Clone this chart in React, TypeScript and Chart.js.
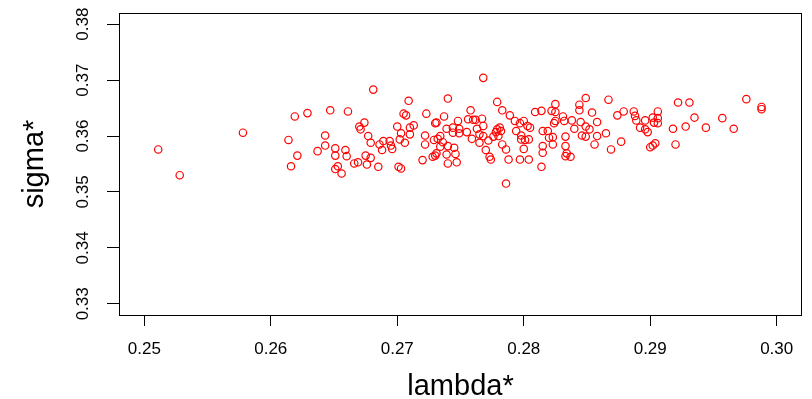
import React, { useEffect, useRef } from "react";
import { Chart, registerables } from "chart.js";

Chart.register(...registerables);

const lambdaStar: number[] = [
  0.2511, 0.2528, 0.2578, 0.2619, 0.2629, 0.2647, 0.2661, 0.2614, 0.2643, 0.2643,
  0.2637, 0.2651, 0.2659, 0.2621, 0.2651, 0.2660, 0.2616, 0.2653, 0.2651, 0.2656,
  0.2666, 0.2669, 0.2670, 0.2671, 0.2674, 0.2675, 0.2679, 0.2677, 0.2679, 0.2676,
  0.2681, 0.2685, 0.2686, 0.2688, 0.2689, 0.2694, 0.2695, 0.2696, 0.2700, 0.2701,
  0.2703, 0.2702, 0.2703, 0.2705, 0.2707, 0.2706, 0.2709, 0.2710, 0.2710, 0.2713,
  0.2720, 0.2722, 0.2722, 0.2723, 0.2728, 0.2730, 0.2731, 0.2729, 0.2732, 0.2730,
  0.2731, 0.2734, 0.2734, 0.2736, 0.2737, 0.2740, 0.2739, 0.2740, 0.2739, 0.2740,
  0.2744, 0.2745, 0.2746, 0.2747, 0.2744, 0.2748, 0.2749, 0.2749, 0.2755, 0.2756,
  0.2758, 0.2759, 0.2760, 0.2762, 0.2763, 0.2765, 0.2765, 0.2767, 0.2768, 0.2768,
  0.2768, 0.2770, 0.2772, 0.2773, 0.2774, 0.2776, 0.2778, 0.2779, 0.2781, 0.2782,
  0.2780, 0.2779, 0.2783, 0.2783, 0.2786, 0.2786, 0.2788, 0.2789, 0.2793, 0.2794,
  0.2797, 0.2798, 0.2798, 0.2797, 0.2800, 0.2800, 0.2801, 0.2803, 0.2805, 0.2804,
  0.2804, 0.2809, 0.2814, 0.2815, 0.2815, 0.2815, 0.2814, 0.2819, 0.2820, 0.2822,
  0.2825, 0.2825, 0.2824, 0.2825, 0.2823, 0.2823, 0.2831, 0.2832, 0.2833, 0.2833,
  0.2833, 0.2834, 0.2838, 0.2844, 0.2844, 0.2849, 0.2845, 0.2840, 0.2837, 0.2849,
  0.2852, 0.2854, 0.2858, 0.2846, 0.2849, 0.2858, 0.2856, 0.2865, 0.2867, 0.2869,
  0.2874, 0.2879, 0.2877, 0.2887, 0.2888, 0.2889, 0.2892, 0.2896, 0.2896, 0.2898,
  0.2900, 0.2902, 0.2904, 0.2902, 0.2906, 0.2906, 0.2903, 0.2906, 0.2918, 0.2920,
  0.2922, 0.2931, 0.2928, 0.2935, 0.2944, 0.2957, 0.2966, 0.2976, 0.2988, 0.2988,
];

const sigmaStar: number[] = [
  0.3576, 0.3530, 0.3606, 0.3635, 0.3641, 0.3646, 0.3644, 0.3593, 0.3601, 0.3583,
  0.3573, 0.3578, 0.3575, 0.3565, 0.3565, 0.3564, 0.3546, 0.3546, 0.3541, 0.3533,
  0.3551, 0.3553, 0.3617, 0.3612, 0.3624, 0.3565, 0.3561, 0.3600, 0.3588, 0.3549,
  0.3683, 0.3545, 0.3585, 0.3575, 0.3591, 0.3591, 0.3583, 0.3577, 0.3617, 0.3545,
  0.3542, 0.3594, 0.3605, 0.3640, 0.3637, 0.3588, 0.3663, 0.3603, 0.3615, 0.3619,
  0.3557, 0.3601, 0.3585, 0.3640, 0.3563, 0.3565, 0.3569, 0.3593, 0.3595, 0.3623,
  0.3624, 0.3600, 0.3581, 0.3589, 0.3635, 0.3667, 0.3613, 0.3582, 0.3567, 0.3551,
  0.3606, 0.3579, 0.3568, 0.3553, 0.3615, 0.3627, 0.3605, 0.3613, 0.3607, 0.3630,
  0.3646, 0.3595, 0.3629, 0.3629, 0.3613, 0.3603, 0.3588, 0.3631, 0.3618, 0.3704,
  0.3600, 0.3575, 0.3592, 0.3563, 0.3558, 0.3599, 0.3607, 0.3612, 0.3615, 0.3609,
  0.3600, 0.3661, 0.3646, 0.3585, 0.3576, 0.3515, 0.3558, 0.3637, 0.3627, 0.3609,
  0.3623, 0.3601, 0.3594, 0.3558, 0.3577, 0.3627, 0.3593, 0.3618, 0.3615, 0.3594,
  0.3558, 0.3643, 0.3645, 0.3609, 0.3582, 0.3570, 0.3545, 0.3609, 0.3597, 0.3645,
  0.3657, 0.3643, 0.3623, 0.3627, 0.3598, 0.3585, 0.3635, 0.3627, 0.3599, 0.3582,
  0.3564, 0.3569, 0.3628, 0.3656, 0.3646, 0.3668, 0.3625, 0.3613, 0.3563, 0.3617,
  0.3612, 0.3642, 0.3625, 0.3601, 0.3599, 0.3600, 0.3585, 0.3605, 0.3665, 0.3576,
  0.3637, 0.3644, 0.3590, 0.3644, 0.3636, 0.3628, 0.3615, 0.3628, 0.3612, 0.3607,
  0.3580, 0.3583, 0.3587, 0.3633, 0.3644, 0.3632, 0.3624, 0.3623, 0.3613, 0.3585,
  0.3660, 0.3660, 0.3617, 0.3633, 0.3615, 0.3632, 0.3613, 0.3666, 0.3652, 0.3648,
];

const xTicks: number[] = [0.25, 0.26, 0.27, 0.28, 0.29, 0.3];
const yTicks: number[] = [0.33, 0.34, 0.35, 0.36, 0.37, 0.38];
const xRange: number[] = [0.248, 0.302];
const yRange: number[] = [0.328, 0.382];
const xTitle = "lambda*";
const yTitle = "sigma*";

const FONT = "'Liberation Sans', Arial, Helvetica, sans-serif";

const frame = {
  id: "rFrame",
  afterDraw(chart: any) {
    const { ctx, chartArea: a } = chart;
    ctx.save();
    ctx.strokeStyle = "#000";
    ctx.lineWidth = 1;
    ctx.strokeRect(a.left + 0.5, a.top + 0.5, a.right - a.left - 1, a.bottom - a.top);
    const ys = chart.scales.y;
    ctx.fillStyle = "#000";
    ctx.font = `17px ${FONT}`;
    ctx.textAlign = "center";
    ctx.textBaseline = "middle";
    for (const v of yTicks) {
      const py = ys.getPixelForValue(v);
      ctx.save();
      ctx.translate(83.5, py);
      ctx.rotate(-Math.PI / 2);
      ctx.fillText(v.toFixed(2), 0, 0);
      ctx.restore();
    }
    ctx.restore();
  },
};

export default function App() {
  const ref = useRef<HTMLCanvasElement | null>(null);
  useEffect(() => {
    document.body.style.margin = "0";
    const canvas = ref.current;
    if (!canvas) return;
    const points = lambdaStar.map((x, i) => ({ x, y: sigmaStar[i] }));
    const chart = new Chart(canvas, {
      type: "scatter",
      data: {
        datasets: [
          {
            data: points,
            pointStyle: "circle",
            pointRadius: 3.7,
            pointHoverRadius: 3.7,
            pointBorderWidth: 1.2,
            borderColor: "#ff0000",
            backgroundColor: "rgba(0,0,0,0)",
          },
        ],
      },
      options: {
        animation: false,
        responsive: false,
        maintainAspectRatio: false,
        devicePixelRatio: 1,
        layout: { padding: { top: 13, right: 10, left: 0, bottom: 0 } },
        plugins: { legend: { display: false }, tooltip: { enabled: false } },
        scales: {
          x: {
            type: "linear",
            min: xRange[0],
            max: xRange[1],
            afterBuildTicks: (axis: any) => {
              axis.ticks = xTicks.map((v) => ({ value: v }));
            },
            afterFit: (axis: any) => {
              axis.height = 84;
            },
            border: { display: false },
            grid: {
              drawOnChartArea: false,
              drawTicks: true,
              tickLength: 11,
              color: "#000",
              lineWidth: 1,
            },
            ticks: {
              autoSkip: false,
              maxRotation: 0,
              minRotation: 0,
              padding: 13,
              color: "#000",
              font: { family: FONT, size: 17 },
              callback: (v: any) => Number(v).toFixed(2),
            },
            title: {
              display: true,
              text: xTitle,
              color: "#000",
              font: { family: FONT, size: 29, lineHeight: 0.8 },
              padding: { top: 0, bottom: 0.5 },
            },
          },
          y: {
            type: "linear",
            min: yRange[0],
            max: yRange[1],
            afterBuildTicks: (axis: any) => {
              axis.ticks = yTicks.map((v) => ({ value: v }));
            },
            afterFit: (axis: any) => {
              axis.width = 119;
            },
            border: { display: false },
            grid: {
              drawOnChartArea: false,
              drawTicks: true,
              tickLength: 12,
              color: "#000",
              lineWidth: 1,
            },
            ticks: { display: false },
            title: {
              display: true,
              text: yTitle,
              color: "#000",
              font: { family: FONT, size: 29, lineHeight: 0.8 },
              padding: { top: 23.5, bottom: 0 },
            },
          },
        },
      },
      plugins: [frame],
    });
    return () => chart.destroy();
  }, []);
  return <canvas ref={ref} width={812} height={399} style={{ display: "block" }} />;
}
